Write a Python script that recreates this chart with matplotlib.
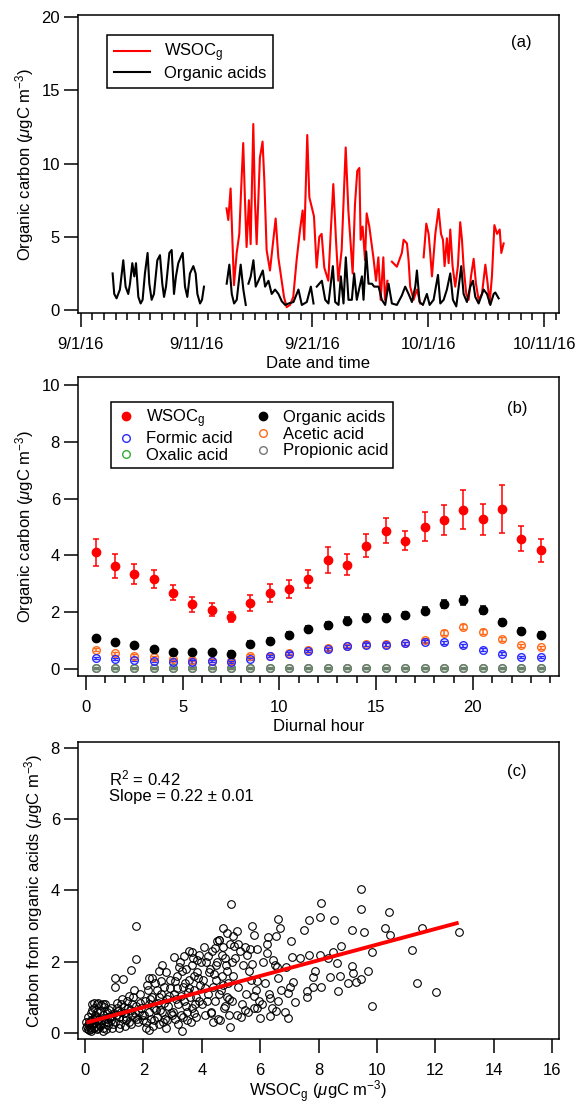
import numpy as np
import pandas as pd
import matplotlib
matplotlib.use("Agg")
import matplotlib.pyplot as plt
import matplotlib.dates as mdates
from matplotlib.lines import Line2D
from matplotlib.ticker import MultipleLocator, FixedLocator, FuncFormatter

# ---------------- data: panel (a) time series (days since 9/1/16) ----------------
oa_days = [2.74, 2.88, 3.08, 3.37, 3.66, 3.86, 4.09, 4.24, 4.44, 4.61, 4.76, 4.96, 5.16, 5.33,
           5.53, 5.76, 5.91, 6.11, 6.31, 6.60, 6.83, 7.03, 7.18, 7.35, 7.64, 7.84, 8.04, 8.21,
           8.41, 8.62, 8.79, 8.99, 9.19, 9.42, 9.71, 9.91, 10.06, 10.29, 10.46, 10.63,
           11.60,
           12.59, 12.82, 13.03, 13.23, 13.46, 13.80, 14.03, 14.24,
           14.35,
           14.47, 14.67, 14.90, 15.10, 15.33, 15.71, 15.91, 16.20, 16.48, 16.77, 17.06, 17.35,
           17.64, 17.93, 18.36, 18.79, 19.08, 19.51, 19.86, 20.09,
           20.23,
           20.37, 20.81, 21.10, 21.38, 21.76, 21.96, 22.25, 22.45, 22.68, 22.88, 23.11, 23.40,
           23.60, 23.83, 24.27, 24.41, 24.64, 24.84, 25.13, 25.33, 25.71, 25.99, 26.28, 26.57,
           26.86, 27.29, 27.72, 28.01, 28.30, 28.59, 28.88, 29.02, 29.25, 29.54, 29.88, 30.12,
           30.46, 30.84, 31.04, 31.33, 31.61, 31.90, 32.13, 32.42, 32.85, 33.05, 33.34, 33.63,
           33.86, 34.06, 34.35, 34.78, 35.07, 35.36, 35.65, 35.79, 36.08]
oa_vals = [2.5, 1.1, 0.8, 1.4, 3.4, 1.6, 1.1, 1.8, 3.2, 2.3, 3.2, 0.9, 0.45, 0.7,
           2.5, 3.9, 1.8, 0.7, 1.1, 3.4, 3.75, 1.8, 0.9, 1.6, 3.9, 4.1, 1.1, 2.3,
           3.2, 3.6, 3.9, 1.6, 0.9, 2.5, 3.0, 2.5, 1.1, 0.45, 0.7, 1.6,
           np.nan,
           1.8, 3.1, 1.1, 0.45, 0.7, 3.1, 1.4, 0.35,
           np.nan,
           1.8, 2.3, 3.4, 1.6, 2.0, 2.7, 1.6, 2.0, 1.1, 1.4, 1.1, 0.6,
           0.35, 0.45, 0.55, 1.4, 0.35, 0.55, 1.6, 0.45,
           np.nan,
           1.6, 2.0, 0.7, 0.45, 3.0, 0.55, 0.35, 2.3, 0.45, 3.6, 0.7, 0.7,
           2.5, 0.7, 2.3, 0.7, 4.0, 1.8, 1.8, 1.6, 1.6, 0.7, 0.35, 1.8,
           0.45, 0.35, 1.0, 1.6, 1.1, 0.55, 1.6, 2.7, 0.55, 0.35, 1.1, 0.35,
           0.7, 2.4, 0.45, 0.7, 1.4, 2.5, 0.7, 0.25, 3.0, 1.1, 0.55, 1.6,
           2.0, 0.9, 0.45, 1.4, 1.1, 0.35, 1.1, 1.2, 0.8]

wsoc_days = [12.58, 12.73, 12.93, 13.22, 13.45, 13.68, 13.88, 14.02, 14.17, 14.31, 14.51, 14.66,
             14.89, 15.03, 15.18, 15.46, 15.69, 15.84, 16.04, 16.33, 16.62, 16.82, 17.05, 17.34,
             17.54, 17.77, 18.06, 18.34, 18.63, 18.92, 19.15, 19.29, 19.55, 19.73, 19.93, 20.13,
             20.36, 20.59, 20.79, 21.02, 21.37, 21.57, 21.80, 22.03, 22.23, 22.52, 22.87, 23.10,
             23.24, 23.47, 23.67, 23.87, 24.05, 24.16, 24.33, 24.54, 24.68, 24.91, 25.11, 25.26,
             25.49, 25.69, 25.89, 26.12, 26.26, 26.47,
             26.65,
             26.86, 27.29, 27.72, 27.87, 28.16, 28.30, 28.44, 28.73, 29.02, 29.31,
             29.45,
             29.60, 29.83, 30.03, 30.17, 30.32, 30.61, 30.89, 31.10, 31.27, 31.41, 31.61, 31.76,
             31.90, 32.10, 32.33, 32.56, 32.76, 32.91, 33.05, 33.28, 33.49, 33.69, 33.92, 34.12,
             34.35, 34.64, 34.93, 35.13, 35.30, 35.50, 35.71, 35.94, 36.17, 36.31, 36.51]
wsoc_vals = [6.94, 6.15, 8.3, 1.7, 3.86, 5.2, 8.98, 11.4, 7.5, 4.3, 7.5, 4.5,
             12.7, 7.5, 4.5, 10.4, 11.5, 8.9, 4.1, 2.7, 4.8, 6.25, 3.6, 2.0,
             0.9, 0.2, 0.35, 0.9, 3.4, 5.45, 6.8, 4.8, 11.95, 7.7, 7.05, 6.4,
             2.9, 5.0, 5.2, 2.9, 2.0, 5.2, 8.6, 4.8, 2.0, 4.1, 11.1, 6.8,
             5.2, 2.5, 7.2, 9.5, 9.7, 4.8, 5.7, 3.4, 6.6, 5.7, 4.5, 3.6,
             2.0, 3.6, 0.7, 3.6, 0.7, 2.0,
             np.nan,
             3.3, 2.96, 3.9, 4.8, 4.55, 3.4, 1.6, 0.7, 1.4, 0.45,
             np.nan,
             3.6, 5.9, 5.2, 3.9, 2.3, 5.2, 6.9, 5.2, 4.8, 3.0, 4.9, 3.2,
             5.5, 3.0, 1.6, 3.0, 6.0, 4.8, 3.0, 1.1, 0.7, 2.3, 3.5, 1.8,
             0.7, 1.1, 3.1, 1.8, 0.45, 2.3, 5.8, 5.2, 5.5, 3.9, 4.55]

date_ticks = ["2016-09-01", "2016-09-11", "2016-09-21", "2016-10-01", "2016-10-11"]

# ---------------- data: panel (b) diurnal ----------------
hours = [0.5, 1.5, 2.5, 3.5, 4.5, 5.5, 6.5, 7.5, 8.5, 9.5, 10.5, 11.5,
         12.5, 13.5, 14.5, 15.5, 16.5, 17.5, 18.5, 19.5, 20.5, 21.5, 22.5, 23.5]
wsoc_d = [4.10, 3.63, 3.35, 3.16, 2.69, 2.28, 2.08, 1.82, 2.31, 2.66, 2.82, 3.16,
          3.84, 3.67, 4.34, 4.87, 4.52, 5.01, 5.25, 5.60, 5.27, 5.62, 4.58, 4.17]
wsoc_err = [0.46, 0.42, 0.36, 0.31, 0.26, 0.26, 0.23, 0.18, 0.28, 0.32, 0.32, 0.31,
            0.45, 0.38, 0.41, 0.43, 0.35, 0.52, 0.52, 0.69, 0.54, 0.84, 0.44, 0.39]
oa_d = [1.08, 0.94, 0.83, 0.70, 0.59, 0.59, 0.58, 0.54, 0.88, 0.99, 1.19, 1.40,
        1.53, 1.70, 1.81, 1.81, 1.90, 2.05, 2.28, 2.41, 2.08, 1.64, 1.34, 1.20]
oa_err = [0.07, 0.07, 0.07, 0.07, 0.07, 0.08, 0.08, 0.08, 0.09, 0.10, 0.11, 0.11,
          0.12, 0.12, 0.12, 0.12, 0.12, 0.13, 0.15, 0.17, 0.14, 0.11, 0.09, 0.09]
acetic_d = [0.67, 0.55, 0.47, 0.41, 0.35, 0.32, 0.29, 0.28, 0.47, 0.47, 0.56, 0.65,
            0.72, 0.82, 0.87, 0.88, 0.90, 1.02, 1.28, 1.49, 1.31, 1.04, 0.83, 0.76]
acetic_err = [0.05, 0.05, 0.05, 0.05, 0.05, 0.05, 0.05, 0.05, 0.06, 0.05, 0.05, 0.05,
              0.05, 0.06, 0.06, 0.06, 0.06, 0.07, 0.08, 0.09, 0.08, 0.07, 0.06, 0.06]
formic_d = [0.38, 0.35, 0.32, 0.28, 0.23, 0.26, 0.27, 0.25, 0.34, 0.46, 0.54, 0.63,
            0.69, 0.79, 0.85, 0.85, 0.90, 0.96, 0.94, 0.83, 0.67, 0.54, 0.43, 0.42]
formic_err = [0.04, 0.04, 0.04, 0.04, 0.04, 0.04, 0.04, 0.04, 0.04, 0.04, 0.04, 0.05,
              0.05, 0.05, 0.05, 0.05, 0.05, 0.05, 0.06, 0.06, 0.05, 0.05, 0.04, 0.04]
oxalic_d = [0.02, 0.02, 0.02, 0.02, 0.02, 0.02, 0.02, 0.02, 0.02, 0.02, 0.02, 0.02,
            0.02, 0.02, 0.02, 0.02, 0.02, 0.02, 0.02, 0.02, 0.02, 0.02, 0.02, 0.02]
propionic_d = [0.03, 0.03, 0.03, 0.03, 0.03, 0.03, 0.03, 0.03, 0.03, 0.03, 0.03, 0.03,
               0.03, 0.03, 0.03, 0.03, 0.03, 0.03, 0.03, 0.03, 0.03, 0.03, 0.03, 0.03]
small_err = [0.02] * 24

# ---------------- data: panel (c) scatter ----------------
sc_x = [5.0, 9.47, 9.47, 10.41, 8.08, 1.75, 6.62, 7.68, 8.05, 8.53, 5.71, 4.74, 5.22, 6.68,
        7.5, 9.15, 9.57, 10.27, 10.45, 11.55, 12.8, 11.22, 11.39, 12.01, 9.82, 9.82, 8.77,
        1.75, 6.96, 7.19, 9.15, 9.70, 8.68, 9.02, 9.3, 9.45, 9.19, 8.73, 8.41, 8.1, 7.82,
        7.59, 7.59, 7.82, 7.88, 7.68, 7.36, 7.05, 7.08, 8.62, 8.50, 8.05, 8.33, 7.13, 7.02,
        6.96, 6.62, 6.56, 6.34, 5.99, 6.33, 5.88, 6.59, 6.45, 6.22, 6.24, 6.28, 6.56, 5.79,
        5.48, 5.65, 5.08, 4.85, 4.51, 4.45, 4.74, 3.65, 3.06, 2.63, 1.56, 1.03, 1.31, 1.03,
        2.2, 0.23, 0.46, 0.63, 4.97, 3.31, 2.2, 2.77,
        0.05, 0.08, 0.1, 0.12, 0.15, 0.18, 0.2, 0.22, 0.25, 0.28, 0.3, 0.32, 0.35, 0.38, 0.4,
        0.42, 0.45, 0.48, 0.1, 0.2, 0.3, 0.4, 0.15, 0.25, 0.35, 0.45, 0.05, 0.3, 0.22, 0.42,
        0.5, 0.55, 0.6, 0.62, 0.65, 0.7, 0.72, 0.75, 0.78, 0.8, 0.85, 0.88, 0.9, 0.95, 0.98,
        0.55, 0.68, 0.82, 0.92, 0.6, 0.75, 0.87, 0.52, 0.66,
        1.02, 1.05, 1.1, 1.15, 1.2, 1.22, 1.25, 1.3, 1.35, 1.4, 1.45, 1.5, 1.55, 1.6, 1.65,
        1.7, 1.75, 1.8, 1.85, 1.9, 1.95, 1.08, 1.18, 1.28, 1.38, 1.48, 1.58, 1.68, 1.78, 1.88,
        1.98, 1.12, 1.42, 1.62, 1.72, 1.92, 1.52, 1.32,
        2.02, 2.05, 2.1, 2.15, 2.2, 2.25, 2.3, 2.35, 2.4, 2.45, 2.5, 2.55, 2.6, 2.65, 2.7,
        2.75, 2.8, 2.85, 2.9, 2.95, 2.08, 2.18, 2.28, 2.38, 2.48, 2.58, 2.68, 2.78, 2.88, 2.98,
        2.12, 2.32, 2.52, 2.72, 2.92, 2.42, 2.62, 2.82, 2.22, 2.55,
        3.02, 3.05, 3.1, 3.15, 3.2, 3.25, 3.3, 3.35, 3.4, 3.45, 3.5, 3.55, 3.6, 3.65, 3.7,
        3.75, 3.8, 3.85, 3.9, 3.95, 3.08, 3.18, 3.28, 3.38, 3.48, 3.58, 3.68, 3.78, 3.88, 3.98,
        3.12, 3.32, 3.52, 3.72, 3.92, 3.42, 3.62, 3.82, 3.22, 3.55, 3.15, 3.45, 3.75, 3.35, 3.85,
        4.02, 4.05, 4.1, 4.15, 4.2, 4.25, 4.3, 4.35, 4.4, 4.45, 4.5, 4.55, 4.6, 4.65, 4.7,
        4.75, 4.8, 4.85, 4.9, 4.95, 4.08, 4.18, 4.28, 4.38, 4.48, 4.58, 4.68, 4.78, 4.88, 4.98,
        4.12, 4.32, 4.52, 4.72, 4.92, 4.42, 4.62, 4.82, 4.22, 4.6,
        5.02, 5.08, 5.15, 5.2, 5.25, 5.3, 5.38, 5.42, 5.5, 5.55, 5.6, 5.68, 5.72, 5.8, 5.85,
        5.9, 5.95, 5.12, 5.35, 5.62, 5.78, 5.48, 5.88, 5.25, 5.05,
        6.05, 6.15, 6.3, 6.4, 6.5, 6.7, 6.85, 6.1, 6.6, 6.9]
sc_y = [3.62, 4.04, 3.49, 3.40, 3.65, 2.99, 3.20, 3.16, 3.25, 3.17, 3.0, 2.94, 2.87, 2.94,
        2.89, 2.89, 2.83, 2.94, 2.74, 2.94, 2.83, 2.33, 1.40, 1.15, 0.76, 2.26, 2.45,
        2.07, 0.41, 0.88, 1.89, 1.75, 1.19, 1.40, 1.44, 1.51, 1.68, 1.60, 1.56, 1.28, 1.28,
        1.19, 1.02, 1.56, 1.75, 2.19, 2.10, 2.57, 2.14, 1.96, 2.28, 2.19, 2.10, 1.44, 1.30,
        1.11, 0.91, 0.63, 0.48, 0.41, 0.97, 0.69, 1.84, 2.05, 2.24, 2.49, 2.69, 2.71, 2.74,
        2.40, 2.35, 2.72, 2.80, 2.57, 2.38, 2.40, 2.28, 2.14, 1.91, 1.77, 1.54, 1.51, 1.28,
        1.54, 0.81, 0.85, 0.81, 0.18, 0.06, 0.08, 0.13,
        0.15, 0.2, 0.12, 0.25, 0.3, 0.18, 0.1, 0.35, 0.22, 0.4, 0.15, 0.28, 0.5, 0.2, 0.1,
        0.6, 0.35, 0.25, 0.45, 0.55, 0.7, 0.8, 0.08, 0.65, 0.42, 0.15, 0.3, 0.85, 0.05, 0.45,
        0.2, 0.35, 0.15, 0.5, 0.28, 0.42, 0.1, 0.6, 0.3, 0.22, 0.48, 0.7, 0.35, 0.25, 0.55,
        0.78, 0.82, 0.65, 0.15, 0.05, 0.38, 0.45, 0.62, 0.72,
        0.3, 0.5, 0.7, 0.45, 0.25, 0.6, 0.8, 0.4, 0.55, 0.35, 0.9, 0.3, 0.65, 0.5, 1.0,
        0.45, 0.75, 0.3, 0.6, 1.1, 0.5, 0.85, 0.15, 0.95, 0.2, 0.7, 0.25, 1.2, 0.4, 0.85,
        0.35, 0.62, 0.45, 0.8, 0.55, 0.7, 1.05, 0.72,
        0.5, 0.9, 0.3, 1.2, 0.6, 0.4, 1.0, 0.7, 1.4, 0.45, 0.85, 0.25, 1.1, 0.6, 1.3,
        0.4, 0.95, 0.75, 1.5, 0.55, 0.15, 0.8, 1.55, 0.35, 1.2, 0.65, 0.3, 1.7, 1.05, 0.5,
        1.35, 0.2, 1.0, 0.85, 1.25, 0.65, 1.45, 0.35, 0.95, 1.75,
        0.6, 1.1, 0.4, 1.6, 0.8, 2.0, 0.5, 1.3, 0.9, 1.8, 0.35, 1.5, 1.0, 0.7, 2.1,
        1.2, 0.45, 1.7, 0.9, 1.35, 1.45, 0.25, 1.05, 2.15, 0.6, 1.25, 1.9, 0.8, 1.55, 2.0,
        0.95, 1.75, 1.15, 0.55, 2.2, 1.4, 0.3, 1.0, 1.85, 2.3, 1.25, 0.75, 1.6, 0.45, 2.05,
        0.8, 1.5, 0.5, 2.0, 1.1, 1.7, 0.6, 2.3, 1.3, 0.9, 1.9, 0.4, 2.6, 1.2, 1.6,
        0.7, 2.1, 1.0, 1.4, 0.5, 2.4, 0.9, 1.8, 0.3, 1.5, 1.1, 2.2, 0.75, 1.75, 2.5,
        1.25, 0.55, 2.0, 1.35, 0.95, 1.65, 0.35, 1.9, 2.15, 2.6,
        0.9, 1.6, 2.1, 0.5, 1.3, 2.3, 0.8, 1.9, 1.1, 2.2, 0.6, 1.5, 1.95, 0.7, 1.2,
        2.35, 0.9, 2.45, 0.45, 1.75, 1.05, 0.65, 1.45, 2.5, 2.0,
        0.8, 1.4, 1.1, 0.7, 1.9, 1.2, 0.6, 2.0, 1.55, 1.85]
fit_slope = 0.22
fit_intercept = 0.28
fit_range = [0.05, 12.8]

# ---------------- style ----------------
plt.rcParams['font.family'] = ['Liberation Sans', 'DejaVu Sans']
plt.rcParams['mathtext.fontset'] = 'custom'
plt.rcParams['mathtext.rm'] = 'Liberation Sans'
plt.rcParams['mathtext.it'] = 'Liberation Sans:italic'
plt.rcParams['mathtext.bf'] = 'Liberation Sans:bold'
FS = 12
plt.rcParams['font.size'] = FS
plt.rcParams['axes.linewidth'] = 1.1

fig = plt.figure(figsize=(5.83, 11.06), dpi=100)
W, H = 583.0, 1106.0

def add_ax(left, top, right, bottom):
    return fig.add_axes([left / W, 1 - bottom / H, (right - left) / W, (bottom - top) / H])

axa = add_ax(78, 15, 559, 313)
axb = add_ax(78, 377, 559, 676)
axc = add_ax(78, 742, 559, 1039)

ylab = r'Organic carbon ($\mu$gC m$^{\mathregular{-3}}$)'
wsoc_lab = r'WSOC$_{\mathregular{g}}$'

def style_ticks(ax):
    ax.tick_params(axis='both', which='major', direction='out', length=10, width=1.1,
                   labelsize=FS, pad=3)
    ax.tick_params(axis='x', which='major', pad=7)
    ax.tick_params(axis='both', which='minor', direction='out', length=5, width=1.1)

# ---------------- panel (a) ----------------
start = pd.Timestamp("2016-09-01")
oa_t = start + pd.to_timedelta(oa_days, unit='D')
ws_t = start + pd.to_timedelta(wsoc_days, unit='D')
axa.plot(ws_t, wsoc_vals, color='#ff0000', lw=1.5, label=wsoc_lab)
axa.plot(oa_t, oa_vals, color='black', lw=1.5, label='Organic acids')
axa.set_xlim(start - pd.Timedelta(hours=6), pd.Timestamp("2016-10-12 07:00"))
axa.set_ylim(-0.2, 20.14)
axa.xaxis.set_major_locator(FixedLocator(mdates.date2num(pd.to_datetime(date_ticks))))
axa.xaxis.set_minor_locator(mdates.DayLocator())
axa.xaxis.set_major_formatter(FuncFormatter(
    lambda v, p: (lambda d: f"{d.month}/{d.day}/{d.year % 100}")(mdates.num2date(v))))
axa.yaxis.set_major_locator(MultipleLocator(5))
style_ticks(axa)
axa.set_ylabel(ylab, fontsize=FS, labelpad=4)
axa.set_xlabel('Date and time', fontsize=FS, labelpad=3)
leg = axa.legend(loc='upper left', bbox_to_anchor=(0.06, 0.933), borderaxespad=0,
                 fancybox=False, framealpha=1, edgecolor='black', fontsize=FS,
                 handlelength=2.2, labelspacing=0.1, borderpad=0.4)
leg.get_frame().set_linewidth(1.1)
axa.text(0.921, 0.909, '(a)', transform=axa.transAxes, ha='center', va='center', fontsize=FS)

# ---------------- panel (b) ----------------
eb = dict(capsize=2.5, elinewidth=1.1, capthick=1.1, ls='none')
axb.errorbar(hours, oxalic_d, yerr=small_err, fmt='o', ms=5.5, mfc='none', mec='#33aa33',
             mew=1.0, ecolor='#33aa33', **eb)
axb.errorbar(hours, propionic_d, yerr=small_err, fmt='o', ms=5.5, mfc='none', mec='#777777',
             mew=1.0, ecolor='#777777', **eb)
axb.errorbar(hours, acetic_d, yerr=acetic_err, fmt='o', ms=5.5, mfc='none', mec='#ff6a1a',
             mew=1.0, ecolor='#ff6a1a', **eb)
axb.errorbar(hours, formic_d, yerr=formic_err, fmt='o', ms=5.5, mfc='none', mec='#2a2aff',
             mew=1.0, ecolor='#2a2aff', **eb)
axb.errorbar(hours, oa_d, yerr=oa_err, fmt='o', ms=6, color='black', ecolor='black', **eb)
axb.errorbar(hours, wsoc_d, yerr=wsoc_err, fmt='o', ms=6, color='#ff0000', ecolor='#ff0000', **eb)
axb.set_xlim(-0.41, 24.45)
axb.set_ylim(-0.25, 10.28)
axb.xaxis.set_major_locator(MultipleLocator(5))
axb.xaxis.set_minor_locator(MultipleLocator(1))
axb.yaxis.set_major_locator(MultipleLocator(2))
style_ticks(axb)
axb.set_ylabel(ylab, fontsize=FS, labelpad=4)
axb.set_xlabel('Diurnal hour', fontsize=FS, labelpad=3)
handles = [
    Line2D([], [], ls='none', marker='o', ms=6, color='#ff0000'),
    Line2D([], [], ls='none', marker='o', ms=5.5, mfc='none', mec='#2a2aff', mew=1.0),
    Line2D([], [], ls='none', marker='o', ms=5.5, mfc='none', mec='#33aa33', mew=1.0),
    Line2D([], [], ls='none', marker='o', ms=6, color='black'),
    Line2D([], [], ls='none', marker='o', ms=5.5, mfc='none', mec='#ff6a1a', mew=1.0),
    Line2D([], [], ls='none', marker='o', ms=5.5, mfc='none', mec='#777777', mew=1.0),
]
labels = [wsoc_lab, 'Formic acid', 'Oxalic acid', 'Organic acids', 'Acetic acid', 'Propionic acid']
legb = axb.legend(handles, labels, ncol=2, loc='upper left', bbox_to_anchor=(0.0686, 0.916),
                  borderaxespad=0, fancybox=False, framealpha=1, edgecolor='black',
                  fontsize=FS, handlelength=1.2, labelspacing=0.1, columnspacing=1.2,
                  handletextpad=0.6, borderpad=0.3)
legb.get_frame().set_linewidth(1.1)
axb.text(0.913, 0.896, '(b)', transform=axb.transAxes, ha='center', va='center', fontsize=FS)

# ---------------- panel (c) ----------------
axc.plot(sc_x, sc_y, ls='none', marker='o', ms=5.5, mfc='none', mec='black', mew=0.8)
fx = np.array(fit_range)
axc.plot(fx, fit_intercept + fit_slope * fx, color='#ff0000', lw=2.8, solid_capstyle='butt')
axc.set_xlim(-0.24, 16.24)
axc.set_ylim(-0.17, 8.17)
axc.xaxis.set_major_locator(MultipleLocator(2))
axc.yaxis.set_major_locator(MultipleLocator(2))
style_ticks(axc)
axc.set_ylabel(r'Carbon from organic acids ($\mu$gC m$^{\mathregular{-3}}$)', fontsize=FS, labelpad=4)
axc.set_xlabel(r'WSOC$_{\mathregular{g}}$ ($\mu$gC m$^{\mathregular{-3}}$)', fontsize=FS, labelpad=0.5)
axc.text(0.064, 0.91, 'R$^{\mathregular{2}}$ = 0.42\nSlope = 0.22 ± 0.01', transform=axc.transAxes,
         ha='left', va='top', fontsize=FS, linespacing=1.0)
axc.text(0.913, 0.899, '(c)', transform=axc.transAxes, ha='center', va='center', fontsize=FS)

fig.savefig('out.png', dpi=100)
